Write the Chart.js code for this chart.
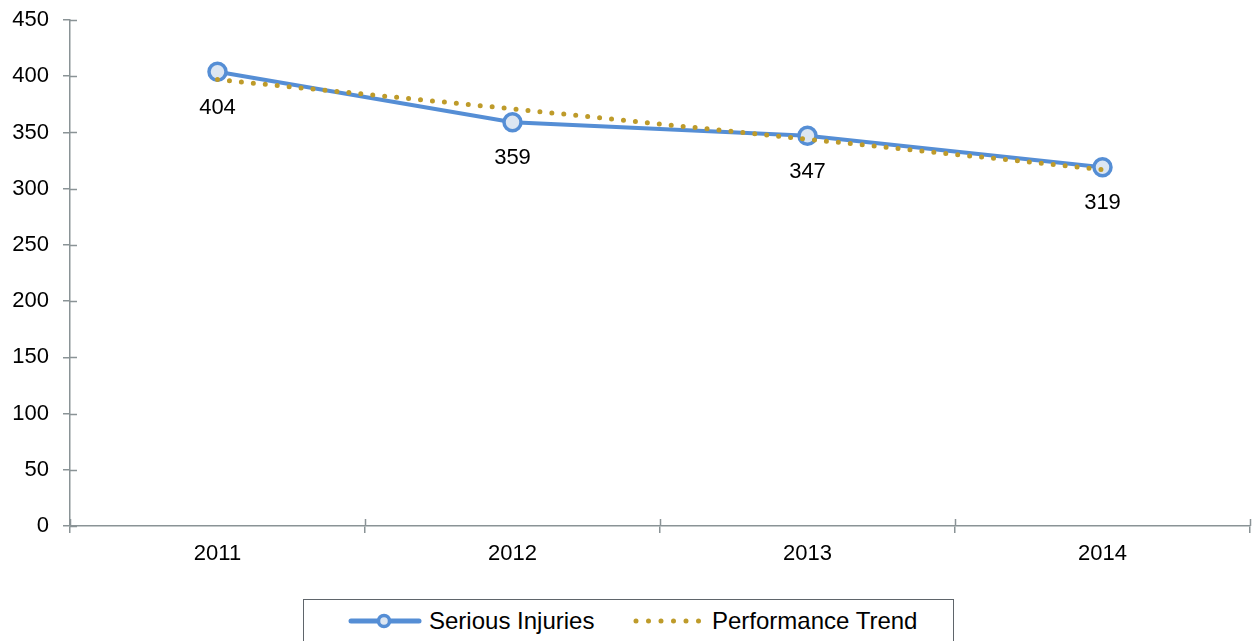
<!DOCTYPE html>
<html>
<head>
<meta charset="utf-8">
<script src="https://cdn.jsdelivr.net/npm/chart.js@4.4.0/dist/chart.umd.min.js"></script>
<style>
  html, body { margin: 0; padding: 0; background: #fff; }
  body { width: 1252px; height: 641px; position: relative; overflow: hidden; font-family: "Liberation Sans", Arial, sans-serif; }
  #wrap { position: absolute; left: 0; top: 0; width: 1252px; height: 590px; overflow: hidden; }
  #legend {
    position: absolute; left: 303px; top: 599px; width: 651px; height: 46px;
    border: 1.5px solid #5f656b; box-sizing: border-box;
    font-size: 24px; color: #000;
  }
  #legend .item { position: absolute; top: 0; height: 42px; display: flex; align-items: center; white-space: nowrap; }
</style>
</head>
<body>
<!-- canvas is a little wider than the window: Chart.js keeps ~10px spare on the right -->
<div id="wrap"><canvas id="c" width="1262" height="590"></canvas></div>
<div id="legend"></div>
<script>
// data
const years = ['2011', '2012', '2013', '2014'];
const seriousInjuries = [404, 359, 347, 319];
const performanceTrend = [397, 371, 344, 317];
const yTicks = [0, 50, 100, 150, 200, 250, 300, 350, 400, 450];

const blue = '#558ED5';
const blueFill = '#DCE6F2';
const gold = '#BE9B2A';
const axisGrey = '#8A9396';
const fontFamily = '"Liberation Sans", Arial, sans-serif';

// ticks that cross the axis line (Excel style)
const crossTicks = {
    id: 'crossTicks',
    afterDraw(chart) {
        const ctx = chart.ctx;
        const x = chart.scales.x, y = chart.scales.y;
        const area = chart.chartArea;
        ctx.save();
        ctx.strokeStyle = axisGrey;
        ctx.lineWidth = 1.5;
        ctx.beginPath();
        yTicks.forEach(v => {
            const py = Math.round(y.getPixelForValue(v)) + 0.5;
            ctx.moveTo(area.left, py);
            ctx.lineTo(area.left + 7, py);
        });
        for (let i = 0; i <= years.length; i++) {
            const px = Math.round(x.getPixelForValue(i - 0.5)) + 0.5;
            ctx.moveTo(px, area.bottom);
            ctx.lineTo(px, area.bottom - 7);
        }
        ctx.stroke();
        ctx.restore();
    }
};

// value labels below the points
const valueLabels = {
    id: 'valueLabels',
    afterDatasetsDraw(chart) {
        const ctx = chart.ctx;
        const meta = chart.getDatasetMeta(0);
        ctx.save();
        ctx.font = '22px ' + fontFamily;
        ctx.fillStyle = '#000';
        ctx.textAlign = 'center';
        ctx.textBaseline = 'middle';
        meta.data.forEach((pt, i) => {
            ctx.fillText(String(seriousInjuries[i]), pt.x, pt.y + 36);
        });
        ctx.restore();
    }
};

const chart = new Chart(document.getElementById('c'), {
    type: 'line',
    data: {
        labels: years,
        datasets: [
            {
                label: 'Serious Injuries',
                data: seriousInjuries,
                borderColor: blue,
                borderWidth: 4,
                pointRadius: 8.5,
                pointBorderWidth: 3.5,
                pointBackgroundColor: blueFill,
                pointBorderColor: blue,
                tension: 0,
                order: 2
            },
            {
                label: 'Performance Trend',
                data: performanceTrend,
                borderColor: gold,
                borderWidth: 5,
                borderDash: [0, 12],
                borderCapStyle: 'round',
                pointRadius: 0,
                tension: 0,
                order: 1
            }
        ]
    },
    options: {
        responsive: false,
        animation: false,
        events: [],
        layout: { padding: { top: 20, right: 2, left: 0, bottom: 0 } },
        plugins: {
            legend: { display: false },
            tooltip: { enabled: false }
        },
        scales: {
            x: {
                offset: true,
                grid: {
                    offset: true,
                    drawOnChartArea: false,
                    color: axisGrey,
                    lineWidth: 1.5,
                    tickLength: 7
                },
                border: { color: axisGrey, width: 1.5 },
                ticks: {
                    color: '#000',
                    font: { size: 22, family: fontFamily },
                    padding: 8
                },
                afterFit(scale) {
                    scale.height = 64;
                    scale.paddingLeft = 0;
                    scale.paddingRight = 0;
                }
            },
            y: {
                min: 0,
                max: 450,
                afterBuildTicks(scale) { scale.ticks = yTicks.map(v => ({ value: v })); },
                grid: {
                    drawOnChartArea: false,
                    color: axisGrey,
                    lineWidth: 1.5,
                    tickLength: 7
                },
                border: { color: axisGrey, width: 1.5 },
                ticks: {
                    color: '#000',
                    font: { size: 22, family: fontFamily },
                    padding: 14
                },
                afterFit(scale) {
                    scale.width = 70;
                    scale.paddingTop = 0;
                    scale.paddingBottom = 0;
                }
            }
        }
    },
    plugins: [crossTicks, valueLabels]
});

// HTML legend built from the datasets
const legendEl = document.getElementById('legend');
const legendLeft = [44, 329];
chart.data.datasets.forEach((ds, i) => {
    const item = document.createElement('div');
    item.className = 'item';
    item.style.left = legendLeft[i] + 'px';
    let sym;
    if (i === 0) {
        sym = `<svg width="76" height="20" style="margin-right:5px"><line x1="3" y1="10" x2="71" y2="10" stroke="${blue}" stroke-width="5" stroke-linecap="round"/>` +
              `<circle cx="36" cy="10" r="5.5" fill="${blueFill}" stroke="${blue}" stroke-width="3.5"/></svg>`;
    } else {
        sym = `<svg width="76" height="20" style="margin-right:3px"><line x1="3" y1="10" x2="68" y2="10" stroke="${gold}" stroke-width="5" stroke-linecap="round" stroke-dasharray="0 12.5"/></svg>`;
    }
    item.innerHTML = sym + '<span>' + ds.label + '</span>';
    legendEl.appendChild(item);
});
</script>
</body>
</html>
